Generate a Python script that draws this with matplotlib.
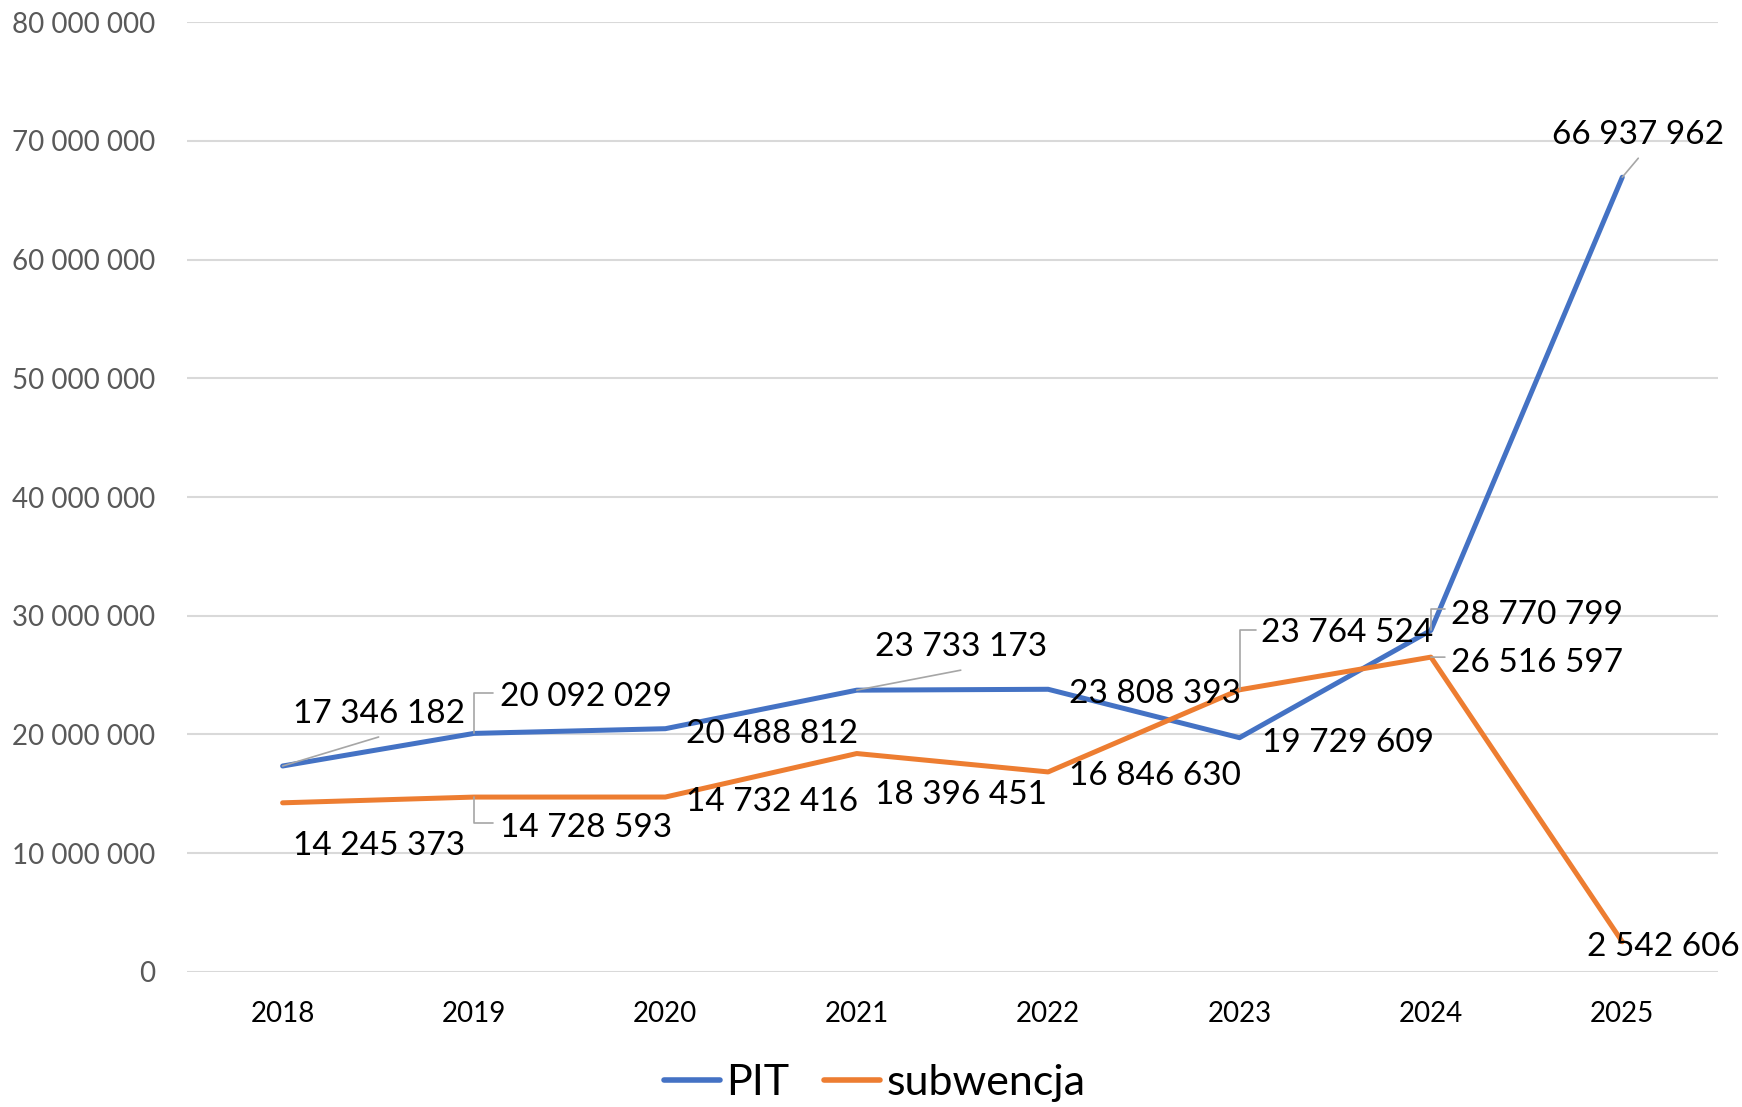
import matplotlib
matplotlib.use("Agg")
import matplotlib.pyplot as plt
from matplotlib.ticker import FuncFormatter, MultipleLocator

years = ["2018", "2019", "2020", "2021", "2022", "2023", "2024", "2025"]
pit = [17346182, 20092029, 20488812, 23733173, 23808393, 19729609, 28770799, 66937962]
subwencja = [14245373, 14728593, 14732416, 18396451, 16846630, 23764524, 26516597, 2542606]
series_names = ["PIT", "subwencja"]

BLUE = "#4472C4"
ORANGE = "#ED7D31"
GRID = "#D9D9D9"
LEADER = "#A6A6A6"
FONT = "Lato"

plt.rcParams['font.family'] = [FONT, 'DejaVu Sans']

fig = plt.figure(figsize=(17.42, 11.07), dpi=100)
ax = fig.add_axes([0.1073, 0.122, 0.8789, 0.858])

x = list(range(len(years)))
ax.plot(x, pit, color=BLUE, lw=3.6, solid_joinstyle='round', solid_capstyle='round', label=series_names[0], zorder=3)
ax.plot(x, subwencja, color=ORANGE, lw=3.6, solid_joinstyle='round', solid_capstyle='round', label=series_names[1], zorder=3)

ax.set_xlim(-0.5, len(years) - 0.5)
ax.set_ylim(0, 80000000)
ax.yaxis.set_major_locator(MultipleLocator(10000000))
ax.yaxis.set_major_formatter(FuncFormatter(lambda v, p: f"{int(v):,}".replace(",", " ")))
ax.set_xticks(x)
ax.set_xticklabels(years)
ax.grid(axis='y', color=GRID, lw=1.5, zorder=0)
ax.set_axisbelow(True)
for s in ax.spines.values():
    s.set_visible(False)
ax.tick_params(axis='y', length=0, pad=23, labelsize=20, labelcolor="#595959")
ax.tick_params(axis='x', length=0, pad=21, labelsize=20, labelcolor="#000000")

def fmt(v):
    return f"{int(v):,}".replace(",", " ")

# label offsets in pixels (dx right, dy up) from the data point
pit_off = [(96, 52), (112, 36), (107, -5), (104, 43), (107, -5), (108, -5), (106, 15), (16, 42)]
sub_off = [(96, -43), (112, -31), (107, -5), (104, -41), (107, -4), (108, 57), (106, -6), (41, -5)]

# leaders: (type, end offset) ; 'line' straight, 'angle' vertical then horizontal
pit_lead = [("line", (96, 29)), ("angle", (19, 40)), None, ("line", (104, 20)), None, None,
            ("angle", (14, 21)), ("line", (16, 19))]
sub_lead = [None, ("angle", (19, -26)), None, None, None, ("angle", (16, 60)), ("line", (14, 0)), None]

for vals, offs, leads in [(pit, pit_off, pit_lead), (subwencja, sub_off, sub_lead)]:
    for i, v in enumerate(vals):
        ax.annotate(fmt(v), xy=(i, v), xytext=offs[i], textcoords='offset pixels',
                    ha='center', va='center', fontsize=24, color='black', zorder=5,
                    annotation_clip=False)
        ld = leads[i]
        if ld is not None:
            kind, end = ld
            cs = "arc3" if kind == "line" else "angle,angleA=0,angleB=90,rad=0"
            ax.annotate("", xy=(i, v), xytext=end, textcoords='offset pixels',
                        arrowprops=dict(arrowstyle='-', color=LEADER, lw=1.2,
                                        shrinkA=0, shrinkB=0, connectionstyle=cs),
                        zorder=4, annotation_clip=False)

leg = fig.legend(loc='center', bbox_to_anchor=(0.502, 0.022), ncol=2, frameon=False,
                 fontsize=31, handlelength=1.3, handletextpad=0.15, columnspacing=0.8,
                 borderaxespad=0)
for h in leg.get_lines():
    h.set_linewidth(4.0)
    h.set_solid_capstyle('round')

fig.savefig("out.png", dpi=100)
